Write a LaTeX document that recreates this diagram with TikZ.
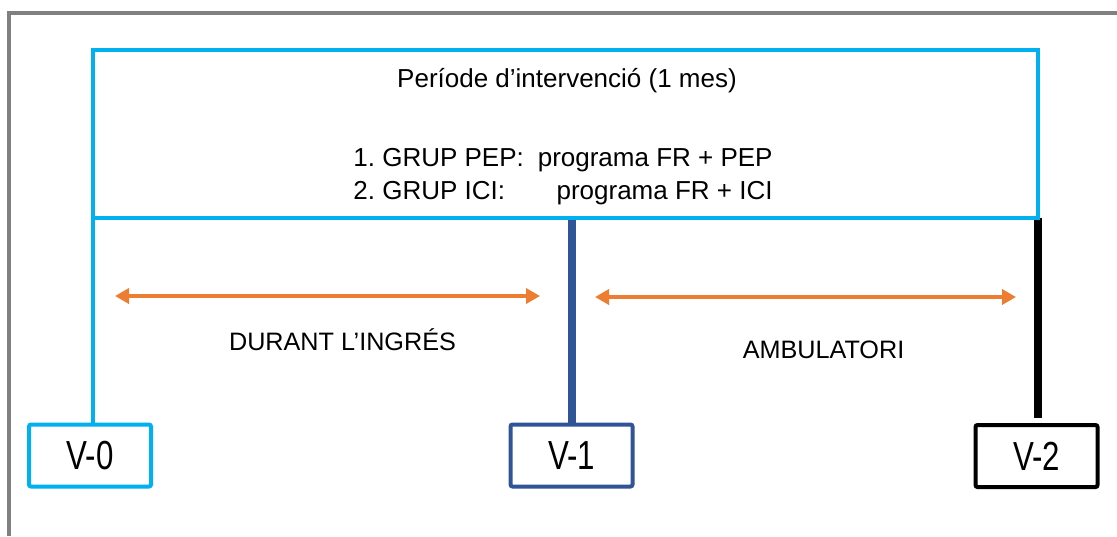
\documentclass[tikz,border=0pt]{standalone}
\usepackage{fontspec}
\setmainfont{Liberation Sans}
\newfontfamily\narrowfont[FakeStretch=0.77]{Liberation Sans}
\usetikzlibrary{arrows.meta}
\definecolor{cielo}{HTML}{00B0F0}
\definecolor{marino}{HTML}{2F5597}
\definecolor{naranja}{HTML}{ED7D31}
\definecolor{marco}{HTML}{808080}
\frenchspacing
\begin{document}
\begin{tikzpicture}[x=0.5pt,y=-0.5pt]
	\tikzstyle{visita} = [draw, line width=2pt, rounded corners=1pt, minimum width=61pt, minimum height=31pt, inner sep=0, font=\narrowfont\fontsize{20.3}{24}\selectfont]
	\tikzstyle{etiqueta} = [inner sep=0, font=\fontsize{12.6}{15}\selectfont]
	\tikzstyle{fletxa} = [{Triangle[length=7pt,width=7.5pt]}-{Triangle[length=7pt,width=7.5pt]}, line width=2pt, naranja]
	\useasboundingbox (0,0) rectangle (1117,536);
	\draw[marco, line width=2pt] (9,536) -- (9,13) -- (1117,13);
	\node [inner sep=0, outer sep=0, minimum width=472.5pt, minimum height=84pt] (periode) at (565.5,134) {};
	\node [visita, cielo] (v0) at (90,455.5) {\color{black}V-0};
	\node [visita, marino] (v1) at (571.5,455.5) {\color{black}V-1};
	\node [visita, black] (v2) at (1036.5,456) {V-2};
	\draw [cielo, line width=2pt] (periode.south west) -- (periode.south west |- v0.north);
	\draw [marino, line width=4pt] (v1.north |- periode.south) -- (v1.north);
	\draw [black, line width=4pt, shorten >=2.5pt] (periode.south east) -- (periode.south east |- v2.north);
	\draw [cielo, line width=2pt] (periode.south west) rectangle (periode.north east);
	\node [etiqueta, anchor=base, font=\fontsize{13}{16}\selectfont] (titol) at (567,87) {Període d’intervenció (1 mes)};
	\node [etiqueta, anchor=base west, font=\fontsize{13}{16}\selectfont] (grp1) at (353,166) {1. GRUP PEP:};
	\node [etiqueta, anchor=base east, font=\fontsize{13}{16}\selectfont] (prg1) at (773,166) {programa FR + PEP};
	\node [etiqueta, anchor=base west, font=\fontsize{13}{16}\selectfont] (grp2) at (353,199) {2. GRUP ICI:};
	\node [etiqueta, anchor=base east, font=\fontsize{13}{16}\selectfont] (prg2) at (773,199) {programa FR + ICI};
	\coordinate (a1) at (115,296);
	\coordinate (a2) at (540,296);
	\coordinate (a3) at (595,297);
	\coordinate (a4) at (1016,297);
	\draw [fletxa] (a1) -- (a2);
	\draw [fletxa] (a3) -- (a4);
	\node [etiqueta, anchor=base] (ingres) at (342.5,350) {DURANT L’INGRÉS};
	\node [etiqueta, anchor=base] (ambul) at (823.5,358) {AMBULATORI};
\end{tikzpicture}
\end{document}
